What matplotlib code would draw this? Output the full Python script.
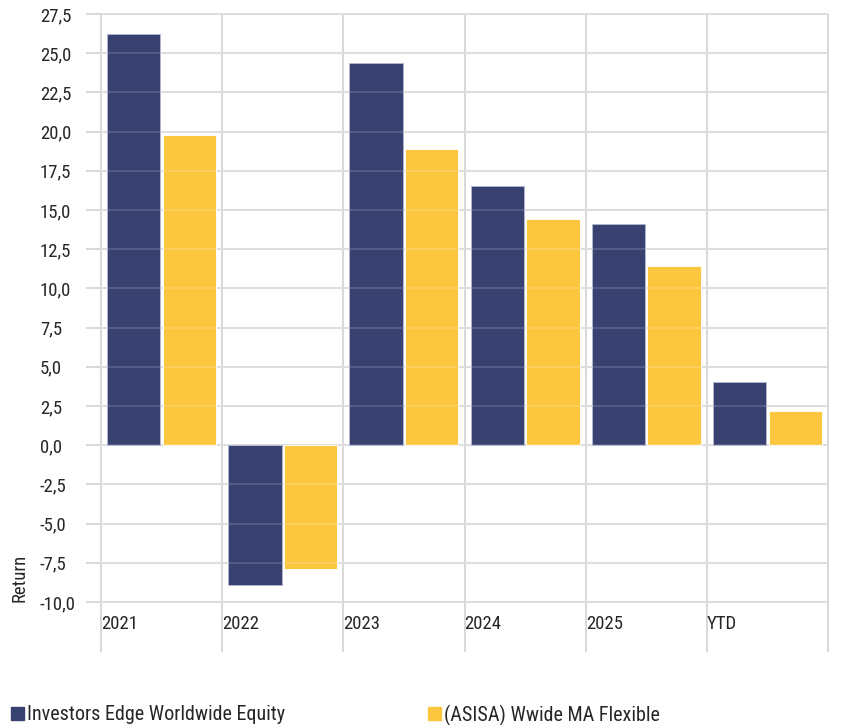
import matplotlib
matplotlib.use("Agg")
import matplotlib.pyplot as plt
from matplotlib.patches import Patch
import numpy as np

plt.rcParams['font.family'] = ['Liberation Sans Narrow', 'Roboto Condensed', 'Liberation Sans', 'DejaVu Sans']

categories = ["2021", "2022", "2023", "2024", "2025", "YTD"]
series_names = ["Investors Edge Worldwide Equity", "(ASISA) Wwide MA Flexible"]
fund_values = [26.2, -8.9, 24.4, 16.5, 14.1, 4.0]
sector_values = [19.8, -7.9, 18.9, 14.4, 11.4, 2.2]
y_ticks = [-10.0, -7.5, -5.0, -2.5, 0.0, 2.5, 5.0, 7.5, 10.0, 12.5, 15.0, 17.5, 20.0, 22.5, 25.0, 27.5]

navy = "#394170"
yellow = "#FCC73F"
grid_c = "#d9d9d9"
text_c = "#262626"

W, H = 843, 725
fig = plt.figure(figsize=(W / 100, H / 100), dpi=100)
ax_l, ax_r, ax_t, ax_b = 101, 828, 14, 602
ax = fig.add_axes([ax_l / W, (H - ax_b) / H, (ax_r - ax_l) / W, (ax_b - ax_t) / H])

n = len(categories)
x = np.arange(n) + 0.5
bw = 0.44
ax.bar(x - 0.23, fund_values, bw, color=navy, edgecolor="#b3b7d3", linewidth=0.6, zorder=2)
ax.bar(x + 0.23, sector_values, bw, color=yellow, edgecolor="white", linewidth=0.6, zorder=2)

ax.set_xlim(0, n)
ax.set_ylim(min(y_ticks), max(y_ticks))
for s in ax.spines.values():
    s.set_visible(False)

lw = 1.45
ext_left = -15 / (ax_r - ax_l)
ext_down = -(652 - ax_b) / (ax_b - ax_t)
ax.hlines(y_ticks, ext_left, 1, transform=ax.get_yaxis_transform(), colors=grid_c,
          linewidth=lw, clip_on=False, zorder=0)
ax.hlines(y_ticks, 0, 1, transform=ax.get_yaxis_transform(), colors="white",
          linewidth=lw, alpha=0.14, clip_on=False, zorder=3)
ax.vlines(np.arange(n + 1), ext_down, 1, transform=ax.get_xaxis_transform(), colors=grid_c,
          linewidth=lw, clip_on=False, zorder=0)

ax.set_yticks(y_ticks)
ax.set_yticklabels([f"{v:.1f}".replace(".", ",") for v in y_ticks])
ax.tick_params(axis="y", length=0, pad=(ax_l - 40) * 0.72, labelsize=13.5, labelcolor=text_c)
for lab in ax.get_yticklabels():
    lab.set_horizontalalignment("left")

ax.set_xticks([])
label_y = -(624 - ax_b) / (ax_b - ax_t)
for i, c in enumerate(categories):
    ax.text(i, label_y, c, transform=ax.get_xaxis_transform(), ha="left", va="center",
            fontsize=13.5, color=text_c)

fig.text(20 / W, (H - 578) / H, "Return", rotation=90, ha="center", va="center",
         fontsize=13.5, color=text_c)

leg_kw = dict(frameon=False, handlelength=0.65, handleheight=0.65, handletextpad=0.12,
              borderpad=0, borderaxespad=0, fontsize=14.5, loc="center left", labelcolor=text_c)
fig.legend([Patch(color=navy)], [series_names[0]], bbox_to_anchor=(11 / W, (H - 715) / H), **leg_kw)
fig.legend([Patch(color=yellow)], [series_names[1]], bbox_to_anchor=(428 / W, (H - 715) / H), **leg_kw)

fig.savefig("out.png", dpi=100, facecolor="white")
